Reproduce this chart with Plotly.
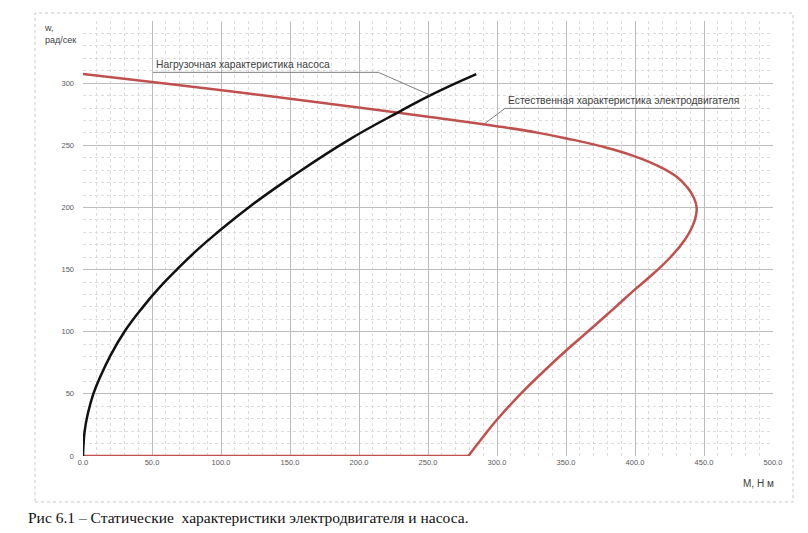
import plotly.graph_objects as go

# Load characteristic of the pump (M, N·m ; w, rad/s)
pump_M = [0.0, 1.2, 3.7, 7.5, 13.0, 19.5, 30.0, 43.5, 55.0, 68.0, 82.0, 96.5, 120.0, 153.0, 192.0,
          230.0, 253.0, 285.0]
pump_w = [0.0, 20.0, 35.0, 50.0, 65.0, 80.0, 100.0, 120.0, 135.0, 150.0, 165.0, 179.0, 200.0, 226.0,
          254.0, 277.5, 291.0, 307.3]

# Natural characteristic of the motor
motor_M = [0.0, 150.0, 250.0, 302.0, 330.0, 350.5, 375.0, 398.8, 418.0, 430.2, 437.5, 442.3, 444.7,
           442.5, 436.0, 426.0, 413.6, 399.4, 386.0, 369.8, 350.5, 333.5, 317.5, 299.8, 290.0, 279.2, 0.0]
motor_w = [307.3, 287.5, 273.0, 265.0, 260.0, 255.5, 249.3, 241.5, 232.7, 224.7, 216.7, 208.6, 199.3,
           187.2, 173.8, 160.3, 147.0, 133.5, 120.0, 104.0, 85.3, 67.8, 50.4, 29.0, 15.5, 0.0, 0.0]

x_ticks = [0, 50, 100, 150, 200, 250, 300, 350, 400, 450, 500]
y_ticks = [0, 50, 100, 150, 200, 250, 300]

label_pump = "Нагрузочная характеристика насоса"
label_motor = "Естественная характеристика электродвигателя"
caption = "Рис 6.1 – Статические  характеристики электродвигателя и насоса."

RED = "#C0504D"
fig = go.Figure()
# curved part of the motor characteristic
fig.add_trace(go.Scatter(x=motor_M[:-1], y=motor_w[:-1], mode="lines",
                         line=dict(color=RED, width=2.5, shape="spline", smoothing=1.3),
                         showlegend=False, cliponaxis=False))
# straight part along w = 0
fig.add_trace(go.Scatter(x=motor_M[-2:], y=motor_w[-2:], mode="lines",
                         line=dict(color=RED, width=2.5),
                         showlegend=False, cliponaxis=False))
fig.add_trace(go.Scatter(x=pump_M, y=pump_w, mode="lines",
                         line=dict(color="#111111", width=2.5, shape="spline", smoothing=1.3),
                         showlegend=False, cliponaxis=False))

lead = dict(color="#7f7f7f", width=1)
# pump label underline + leader
fig.add_shape(type="line", x0=50.7, y0=308.7, x1=214.0, y1=308.7, line=lead)
fig.add_shape(type="line", x0=214.0, y0=308.7, x1=251.4, y1=290.4, line=lead)
# motor label underline + leader
fig.add_shape(type="line", x0=305.8, y0=279.7, x1=476.0, y1=279.7, line=lead)
fig.add_shape(type="line", x0=305.8, y0=279.7, x1=291.3, y1=267.6, line=lead)

ann_font = dict(family="Liberation Sans, Arial", size=10.3, color="#404040")
fig.add_annotation(x=51.2, y=308.7, text=label_pump, showarrow=False, xanchor="left",
                   yanchor="bottom", font=ann_font)
fig.add_annotation(x=306.5, y=279.7, text=label_motor, showarrow=False, xanchor="left",
                   yanchor="bottom", font=ann_font)

# axis titles
fig.add_annotation(xref="paper", yref="paper", x=-0.059, y=1.0, text="w,<br>рад/сек",
                   showarrow=False, xanchor="left", yanchor="top", align="left",
                   font=dict(family="Liberation Sans, Arial", size=9, color="#404040"))
fig.add_annotation(xref="paper", yref="paper", x=1.0, y=-0.045, text="М, Н м", xshift=3,
                   showarrow=False, xanchor="right", yanchor="top",
                   font=dict(family="Liberation Sans, Arial", size=10, color="#404040"))
# caption
fig.add_annotation(xref="paper", yref="paper", x=-0.082, y=-0.117, text=caption,
                   showarrow=False, xanchor="left", yanchor="top",
                   font=dict(family="Liberation Serif, Times New Roman", size=15.5, color="#111111"))

# outer border
fig.add_shape(type="rect", xref="paper", yref="paper", x0=-0.0696, x1=1.029, y0=-0.1057, y1=1.0184,
              line=dict(color="#c8c8c8", width=1, dash="dot"), layer="below")

tick_font = dict(family="Liberation Sans, Arial", size=7.5, color="#595959")
fig.update_xaxes(range=[0, 500], tickvals=x_ticks, ticktext=[f"{v:.1f}" for v in x_ticks],
                 showgrid=True, gridcolor="#bdbdbd", gridwidth=1, zeroline=False,
                 showline=False, ticks="", tickfont=tick_font,
                 minor=dict(dtick=10, showgrid=True, gridcolor="#dcdcdc", griddash="dot", gridwidth=1))
fig.update_yaxes(range=[0, 350], tickvals=y_ticks, ticktext=[str(v) for v in y_ticks],
                 showgrid=True, gridcolor="#bdbdbd", gridwidth=1, zeroline=False,
                 showline=False, ticks="", tickfont=tick_font, ticklabelstandoff=8,
                 minor=dict(dtick=10, showgrid=True, gridcolor="#dcdcdc", griddash="dot", gridwidth=1))

# page body has an 8px margin, so the figure is 8px smaller on each axis
fig.update_layout(width=800, height=525, margin=dict(l=75, r=35, t=13, b=77),
                  paper_bgcolor="white", plot_bgcolor="white")

fig.write_html("out.html")
